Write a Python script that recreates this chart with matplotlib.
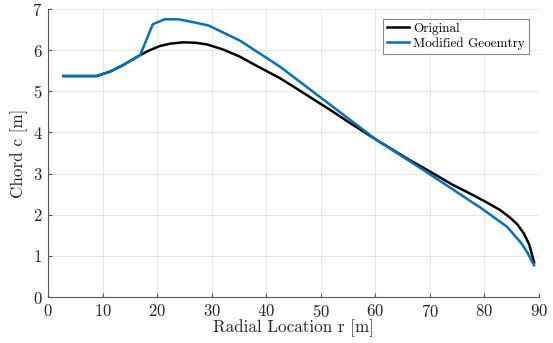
import numpy as np
import matplotlib
matplotlib.use("Agg")
import matplotlib.pyplot as plt

plt.rcParams['font.family'] = 'serif'
plt.rcParams['font.serif'] = ['cmr10', 'DejaVu Serif']
plt.rcParams['axes.formatter.use_mathtext'] = True
plt.rcParams['mathtext.fontset'] = 'cm'

# original blade chord distribution
r_orig = [2.8, 5.0, 8.9, 11.4, 13.8, 16.9, 18.5, 20.5, 22.5, 24.8, 27.0, 29.1,
          32.0, 35.2, 38.5, 42.5, 46.0, 49.9, 51.7, 55.0, 60.2, 66.0, 70.0,
          74.0, 78.0, 80.4, 82.8, 84.5, 86.0, 87.2, 88.2, 89.1]
c_orig = [5.37, 5.37, 5.37, 5.48, 5.64, 5.88, 5.99, 6.10, 6.16, 6.19, 6.18, 6.14,
          6.02, 5.84, 5.60, 5.32, 5.03, 4.70, 4.55, 4.26, 3.82, 3.35, 3.05,
          2.74, 2.47, 2.30, 2.12, 1.95, 1.77, 1.55, 1.28, 0.84]

# modified geometry
r_mod = [2.8, 5.0, 8.9, 11.4, 13.8, 16.9, 19.2, 21.4, 23.9, 26.6, 29.4, 32.7,
         35.2, 42.5, 60.2, 69.0, 73.7, 78.0, 79.2, 84.2, 86.8, 88.0, 89.1]
c_mod = [5.37, 5.37, 5.37, 5.48, 5.64, 5.88, 6.63, 6.75, 6.75, 6.68, 6.60, 6.39,
         6.23, 5.60, 3.82, 3.07, 2.66, 2.28, 2.18, 1.70, 1.30, 1.05, 0.77]

fig = plt.figure(figsize=(5.53, 3.43), dpi=100)
ax = fig.add_axes([48 / 553, 1 - 297 / 343, 491 / 553, 288 / 343])

ax.plot(r_orig, c_orig, color='black', lw=1.8, label='Original')
ax.plot(r_mod, c_mod, color='#0072BD', lw=1.8, label='Modified Geoemtry')

ax.set_xlim(0, 90)
ax.set_ylim(0, 7)
ax.set_xticks(np.arange(0, 91, 10))
ax.set_yticks(np.arange(0, 8, 1))
ax.grid(True, color='#e6e6e6', lw=0.7)
ax.set_axisbelow(True)
for s in ['top', 'right']:
    ax.spines[s].set_visible(False)
for s in ['left', 'bottom']:
    ax.spines[s].set_color('#555555')
ax.tick_params(direction='in', length=3, colors='#555555', labelcolor='#262626',
               labelsize=12, pad=4)

ax.set_xlabel('Radial Location r [m]', fontsize=12.3, color='#262626', labelpad=0)
ax.set_ylabel('Chord c [m]', fontsize=12.3, color='#262626', labelpad=3)

leg = ax.legend(loc='upper right', fontsize=9.5, fancybox=False, framealpha=1,
                edgecolor='#888888', handlelength=1.7, handletextpad=0.3,
                borderpad=0.3, labelspacing=0.15, borderaxespad=0.75)
leg.get_frame().set_linewidth(0.8)

fig.savefig('out.png', dpi=100)
